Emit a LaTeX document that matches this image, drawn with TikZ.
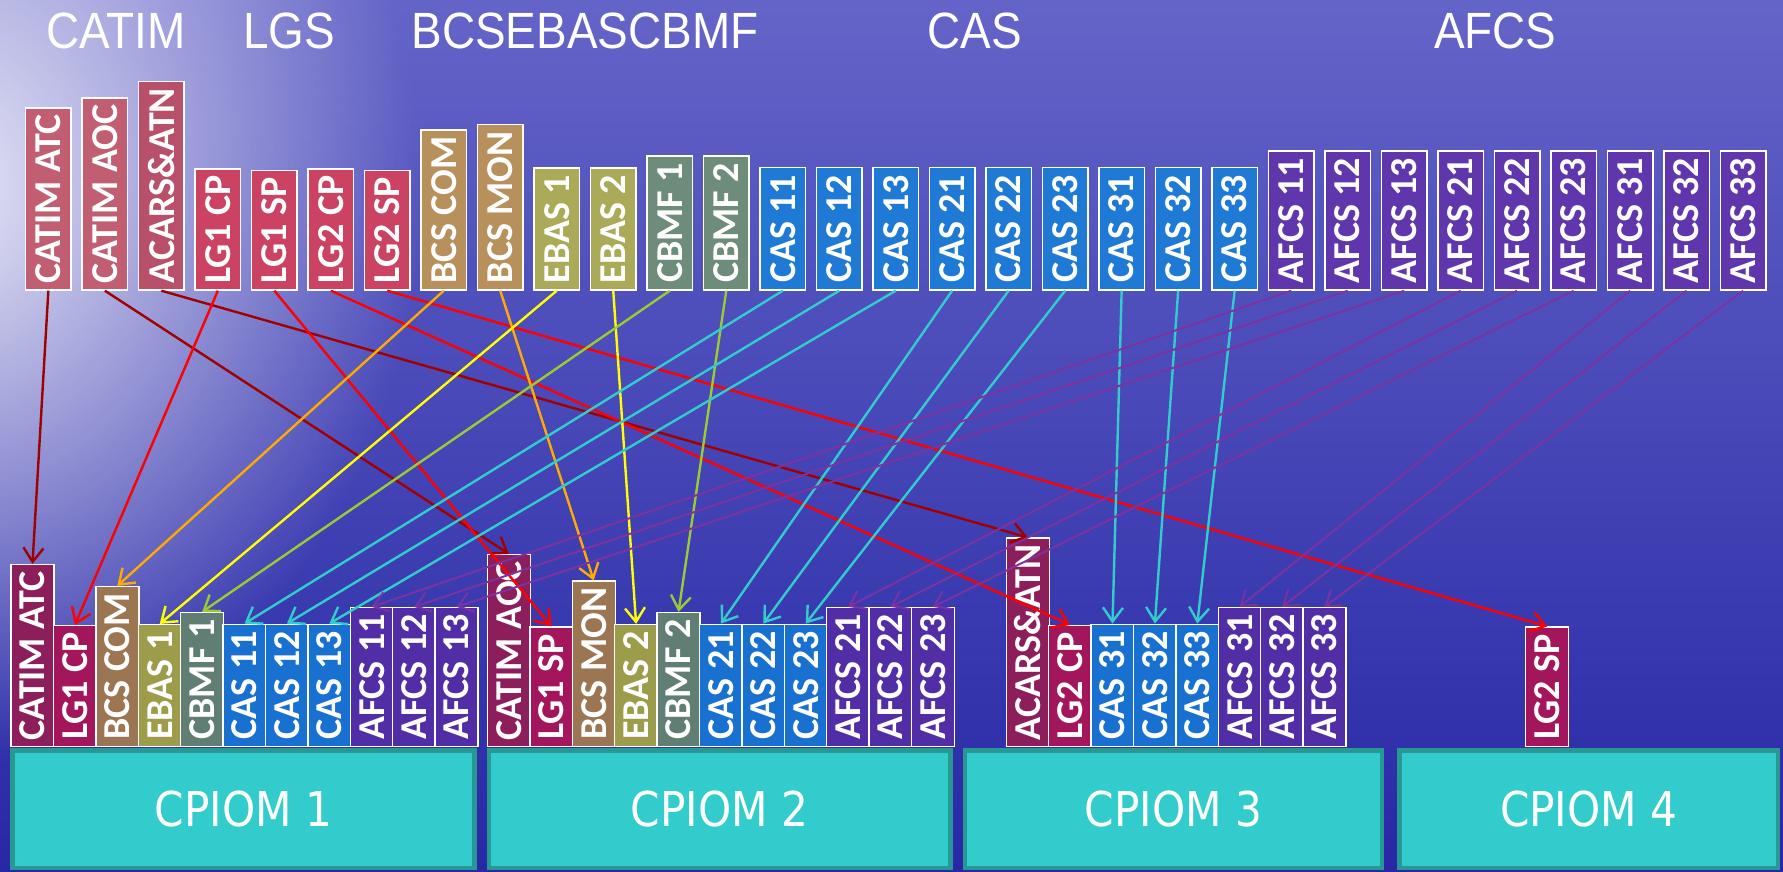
\documentclass[tikz,border=0pt]{standalone}
\usepackage{fontspec}
\usepackage{xcolor}
\usepackage{tikz}
\usetikzlibrary{arrows.meta, fadings}

\newfontfamily\boxfont{Carlito}
\newfontfamily\titlefont{Liberation Sans}[FakeStretch=0.9]
\newfontfamily\cpiomfont{DejaVu Sans}[FakeStretch=0.88]

% background
\definecolor{bgtop}{RGB}{100,100,200}
\definecolor{bgmid}{RGB}{66,66,182}
\definecolor{bgbot}{RGB}{40,40,166}
% upper row
\definecolor{tCatim}{RGB}{194,94,114}
\definecolor{tAcars}{RGB}{184,80,106}
\definecolor{tLg}{RGB}{204,66,98}
\definecolor{tBcs}{RGB}{184,144,92}
\definecolor{tEbas}{RGB}{170,170,88}
\definecolor{tCbmf}{RGB}{110,140,122}
\definecolor{tCas}{RGB}{30,122,212}
\definecolor{tAfcs}{RGB}{96,54,172}
% lower row
\definecolor{bCatim}{RGB}{140,30,92}
\definecolor{bLg}{RGB}{163,22,92}
\definecolor{bBcs}{RGB}{156,118,82}
\definecolor{bEbas}{RGB}{156,156,74}
\definecolor{bCbmf}{RGB}{96,126,116}
\definecolor{bCas}{RGB}{24,112,208}
\definecolor{bAfcs}{RGB}{82,46,166}
% links
\definecolor{lDarkred}{RGB}{160,0,0}
\definecolor{lRed}{RGB}{255,0,0}
\definecolor{lOrange}{RGB}{255,170,0}
\definecolor{lYellow}{RGB}{255,255,0}
\definecolor{lLime}{RGB}{153,204,51}
\definecolor{lTurq}{RGB}{51,204,204}
\definecolor{lPurple}{RGB}{125,50,160}
% modules
\definecolor{cpiomfill}{RGB}{51,204,204}
\definecolor{cpiomline}{RGB}{40,152,148}

\tikzfading[name=glow, inner color=transparent!0, outer color=transparent!100]

\tikzset{
  app/.style={draw=white, line width=1.4pt, rotate=90, anchor=north west,
    inner sep=0pt, text=white, font=\boxfont\bfseries\fontsize{38}{40}\selectfont},
  topapp/.style={app, minimum height=45.5},
  botapp/.style={app, minimum height=43},
  hATC/.style={minimum width=182},
  hAOC/.style={minimum width=192},
  hACARS/.style={minimum width=208.5},
  hCP/.style={minimum width=121},
  hSP/.style={minimum width=119.5},
  hCOM/.style={minimum width=160},
  hMON/.style={minimum width=165.5},
  hEBAS/.style={minimum width=122},
  hCBMF/.style={minimum width=134},
  hCAS/.style={minimum width=122.3},
  hAFCS/.style={minimum width=139},
  grouptitle/.style={anchor=base west, inner sep=0pt, text=white,
    font=\titlefont\fontsize{51}{53}\selectfont},
  cpiom/.style={draw=cpiomline, line width=4.5pt, fill=cpiomfill, text=white,
    font=\cpiomfont\fontsize{48}{50}\selectfont},
  link/.style={-{Straight Barb[length=14pt,width=20pt]}, line width=2.4pt},
  thinlink/.style={link, line width=1.9pt}
}

\begin{document}
\begin{tikzpicture}[x=1pt,y=-1pt]
\useasboundingbox (0,0) rectangle (1783,871);

% background
\begin{scope}
\clip (0,0) rectangle (1783,871);
\shade[top color=bgtop, middle color=bgmid, bottom color=bgbot] (0,0) rectangle (1783,871);
\fill[white, fill opacity=0.85, path fading=glow] (-520,-380) rectangle (420,760);
\end{scope}

% Text Node
\node[grouptitle] (tiCatim) at (46,48.3) {CATIM};
\node[grouptitle] (tiLgs) at (243,48.3) {LGS};
\node[grouptitle] (tiMisc) at (411.4,48.3) {BCSEBASCBMF};
\node[grouptitle] (tiCas) at (927.2,48.3) {CAS};
\node[grouptitle] (tiAfcs) at (1433.8,48.3) {AFCS};

% upper row
\node[topapp, hATC, fill=tCatim] (tATC) at (24.9,290.7) {CATIM ATC};
\node[topapp, hAOC, fill=tCatim] (tAOC) at (81.4,290.7) {CATIM AOC};
\node[topapp, hACARS, fill=tAcars] (tACARS) at (137.9,290.7) {ACARS\&ATN};
\node[topapp, hCP, fill=tLg] (tCP1) at (194.4,290.7) {LG1 CP};
\node[topapp, hSP, fill=tLg] (tSP1) at (250.9,290.7) {LG1 SP};
\node[topapp, hCP, fill=tLg] (tCP2) at (307.4,290.7) {LG2 CP};
\node[topapp, hSP, fill=tLg] (tSP2) at (363.8,290.7) {LG2 SP};
\node[topapp, hCOM, fill=tBcs] (tCOM) at (420.3,290.7) {BCS COM};
\node[topapp, hMON, fill=tBcs] (tMON) at (476.8,290.7) {BCS MON};
\node[topapp, hEBAS, fill=tEbas] (tEBAS1) at (533.3,290.7) {EBAS 1};
\node[topapp, hEBAS, fill=tEbas] (tEBAS2) at (589.8,290.7) {EBAS 2};
\node[topapp, hCBMF, fill=tCbmf] (tCBMF1) at (646.3,290.7) {CBMF 1};
\node[topapp, hCBMF, fill=tCbmf] (tCBMF2) at (702.8,290.7) {CBMF 2};
\node[topapp, hCAS, fill=tCas] (tCAS11) at (759.3,290.7) {CAS 11};
\node[topapp, hCAS, fill=tCas] (tCAS12) at (815.8,290.7) {CAS 12};
\node[topapp, hCAS, fill=tCas] (tCAS13) at (872.3,290.7) {CAS 13};
\node[topapp, hCAS, fill=tCas] (tCAS21) at (928.7,290.7) {CAS 21};
\node[topapp, hCAS, fill=tCas] (tCAS22) at (985.2,290.7) {CAS 22};
\node[topapp, hCAS, fill=tCas] (tCAS23) at (1041.7,290.7) {CAS 23};
\node[topapp, hCAS, fill=tCas] (tCAS31) at (1098.2,290.7) {CAS 31};
\node[topapp, hCAS, fill=tCas] (tCAS32) at (1154.7,290.7) {CAS 32};
\node[topapp, hCAS, fill=tCas] (tCAS33) at (1211.2,290.7) {CAS 33};
\node[topapp, hAFCS, fill=tAfcs] (tAFCS11) at (1267.7,290.7) {AFCS 11};
\node[topapp, hAFCS, fill=tAfcs] (tAFCS12) at (1324.2,290.7) {AFCS 12};
\node[topapp, hAFCS, fill=tAfcs] (tAFCS13) at (1380.7,290.7) {AFCS 13};
\node[topapp, hAFCS, fill=tAfcs] (tAFCS21) at (1437.2,290.7) {AFCS 21};
\node[topapp, hAFCS, fill=tAfcs] (tAFCS22) at (1493.6,290.7) {AFCS 22};
\node[topapp, hAFCS, fill=tAfcs] (tAFCS23) at (1550.1,290.7) {AFCS 23};
\node[topapp, hAFCS, fill=tAfcs] (tAFCS31) at (1606.6,290.7) {AFCS 31};
\node[topapp, hAFCS, fill=tAfcs] (tAFCS32) at (1663.1,290.7) {AFCS 32};
\node[topapp, hAFCS, fill=tAfcs] (tAFCS33) at (1719.6,290.7) {AFCS 33};

% modules
\node[cpiom, minimum width=461.7, minimum height=117.2] (cpiom1) at (243.4,809.2) {CPIOM 1};
\node[cpiom, minimum width=461.5, minimum height=117.2] (cpiom2) at (719.7,809.2) {CPIOM 2};
\node[cpiom, minimum width=417, minimum height=117.2] (cpiom3) at (1173.4,809.2) {CPIOM 3};
\node[cpiom, minimum width=378.2, minimum height=117.2] (cpiom4) at (1588.7,809.2) {CPIOM 4};

% lower row, CPIOM 1
\node[botapp, hATC, fill=bCatim] (bATC) at (10.3,747.3) {CATIM ATC};
\node[botapp, hCP, fill=bLg] (bCP1) at (52.7,747.3) {LG1 CP};
\node[botapp, hCOM, fill=bBcs] (bCOM) at (95.1,747.3) {BCS COM};
\node[botapp, hEBAS, fill=bEbas] (bEBAS1) at (137.5,747.3) {EBAS 1};
\node[botapp, hCBMF, fill=bCbmf] (bCBMF1) at (179.9,747.3) {CBMF 1};
\node[botapp, hCAS, fill=bCas] (bCAS11) at (222.3,747.3) {CAS 11};
\node[botapp, hCAS, fill=bCas] (bCAS12) at (264.7,747.3) {CAS 12};
\node[botapp, hCAS, fill=bCas] (bCAS13) at (307.1,747.3) {CAS 13};
\node[botapp, hAFCS, fill=bAfcs] (bAFCS11) at (349.5,747.3) {AFCS 11};
\node[botapp, hAFCS, fill=bAfcs] (bAFCS12) at (391.9,747.3) {AFCS 12};
\node[botapp, hAFCS, fill=bAfcs] (bAFCS13) at (434.3,747.3) {AFCS 13};
% lower row, CPIOM 2
\node[botapp, hAOC, fill=bCatim] (bAOC) at (486.7,747.3) {CATIM AOC};
\node[botapp, hSP, fill=bLg] (bSP1) at (529.1,747.3) {LG1 SP};
\node[botapp, hMON, fill=bBcs] (bMON) at (571.5,747.3) {BCS MON};
\node[botapp, hEBAS, fill=bEbas] (bEBAS2) at (613.9,747.3) {EBAS 2};
\node[botapp, hCBMF, fill=bCbmf] (bCBMF2) at (656.3,747.3) {CBMF 2};
\node[botapp, hCAS, fill=bCas] (bCAS21) at (698.7,747.3) {CAS 21};
\node[botapp, hCAS, fill=bCas] (bCAS22) at (741.1,747.3) {CAS 22};
\node[botapp, hCAS, fill=bCas] (bCAS23) at (783.5,747.3) {CAS 23};
\node[botapp, hAFCS, fill=bAfcs] (bAFCS21) at (825.9,747.3) {AFCS 21};
\node[botapp, hAFCS, fill=bAfcs] (bAFCS22) at (868.3,747.3) {AFCS 22};
\node[botapp, hAFCS, fill=bAfcs] (bAFCS23) at (910.7,747.3) {AFCS 23};
% lower row, CPIOM 3
\node[botapp, hACARS, fill=bCatim] (bACARS) at (1005.5,747.3) {ACARS\&ATN};
\node[botapp, hCP, fill=bLg] (bCP2) at (1047.9,747.3) {LG2 CP};
\node[botapp, hCAS, fill=bCas] (bCAS31) at (1090.3,747.3) {CAS 31};
\node[botapp, hCAS, fill=bCas] (bCAS32) at (1132.7,747.3) {CAS 32};
\node[botapp, hCAS, fill=bCas] (bCAS33) at (1175.1,747.3) {CAS 33};
\node[botapp, hAFCS, fill=bAfcs] (bAFCS31) at (1217.5,747.3) {AFCS 31};
\node[botapp, hAFCS, fill=bAfcs] (bAFCS32) at (1259.9,747.3) {AFCS 32};
\node[botapp, hAFCS, fill=bAfcs] (bAFCS33) at (1302.3,747.3) {AFCS 33};
% lower row, CPIOM 4
\node[botapp, hSP, fill=bLg] (bSP2) at (1525,747.3) {LG2 SP};

% links
\draw[link, lDarkred] (tATC.west) -- (bATC.east);
\draw[link, lDarkred] (tAOC.west) -- (bAOC.east);
\draw[link, lDarkred] (tACARS.west) -- (bACARS.east);
\draw[link, lRed] (tCP1.west) -- (bCP1.east);
\draw[link, lRed] (tSP1.west) -- (bSP1.east);
\draw[link, lRed] (tCP2.west) -- (bCP2.east);
\draw[link, lRed] (tSP2.west) -- (bSP2.east);
\draw[link, lOrange] (tCOM.west) -- (bCOM.east);
\draw[link, lOrange] (tMON.west) -- (bMON.east);
\draw[link, lYellow] (tEBAS1.west) -- (bEBAS1.east);
\draw[link, lYellow] (tEBAS2.west) -- (bEBAS2.east);
\draw[link, lLime] (tCBMF1.west) -- (bCBMF1.east);
\draw[link, lLime] (tCBMF2.west) -- (bCBMF2.east);
\draw[link, lTurq] (tCAS11.west) -- (bCAS11.east);
\draw[link, lTurq] (tCAS12.west) -- (bCAS12.east);
\draw[link, lTurq] (tCAS13.west) -- (bCAS13.east);
\draw[link, lTurq] (tCAS21.west) -- (bCAS21.east);
\draw[link, lTurq] (tCAS22.west) -- (bCAS22.east);
\draw[link, lTurq] (tCAS23.west) -- (bCAS23.east);
\draw[link, lTurq] (tCAS31.west) -- (bCAS31.east);
\draw[link, lTurq] (tCAS32.west) -- (bCAS32.east);
\draw[link, lTurq] (tCAS33.west) -- (bCAS33.east);
\draw[thinlink, lPurple] (tAFCS11.west) -- (bAFCS11.east);
\draw[thinlink, lPurple] (tAFCS12.west) -- (bAFCS12.east);
\draw[thinlink, lPurple] (tAFCS13.west) -- (bAFCS13.east);
\draw[thinlink, lPurple] (tAFCS21.west) -- (bAFCS21.east);
\draw[thinlink, lPurple] (tAFCS22.west) -- (bAFCS22.east);
\draw[thinlink, lPurple] (tAFCS23.west) -- (bAFCS23.east);
\draw[thinlink, lPurple] (tAFCS31.west) -- (bAFCS31.east);
\draw[thinlink, lPurple] (tAFCS32.west) -- (bAFCS32.east);
\draw[thinlink, lPurple] (tAFCS33.west) -- (bAFCS33.east);

\end{tikzpicture}
\end{document}
